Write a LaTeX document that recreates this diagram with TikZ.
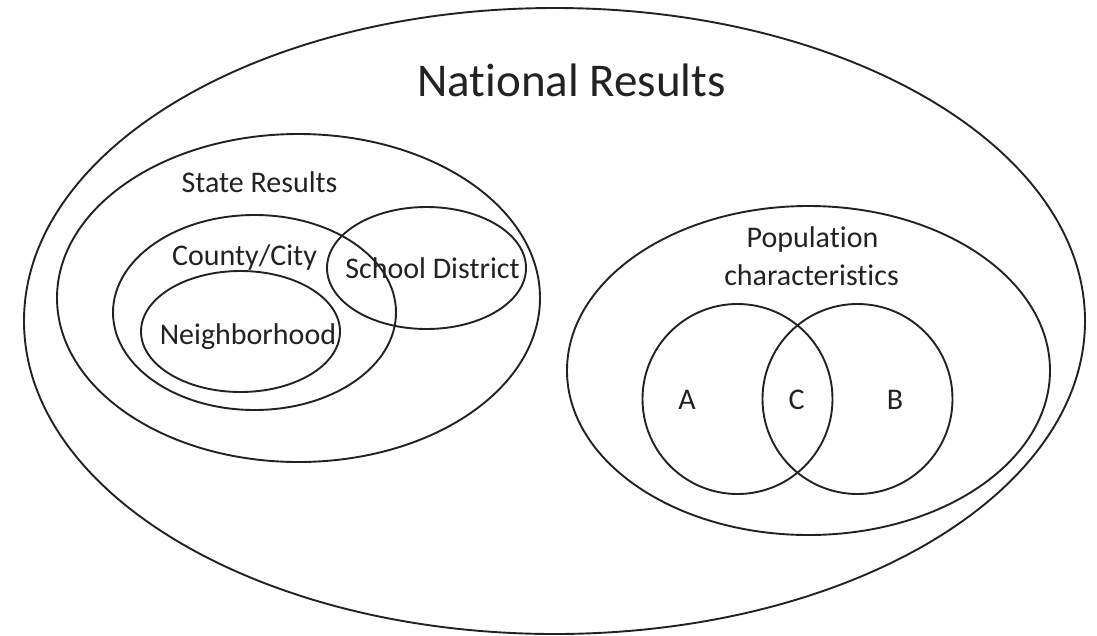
\documentclass[tikz,border=0pt]{standalone}
\usepackage{fontspec}
\setmainfont{Carlito}[Ligatures=NoCommon]
\definecolor{ink}{HTML}{222222}
\begin{document}
\begin{tikzpicture}[x=1pt,y=-1pt,
  shapeline/.style={draw=ink,line width=1.9pt},
  lbl/.style={anchor=base,inner sep=0pt,text=ink,font=\fontsize{30}{36}\selectfont},
  biglbl/.style={anchor=base,inner sep=0pt,text=ink,font=\fontsize{47}{56}\selectfont}]
\useasboundingbox (0,0) rectangle (1097,635);
% shapes
\draw[shapeline] (554.5,321) ellipse [x radius=530.5pt, y radius=313pt];
\draw[shapeline] (298.5,298) ellipse [x radius=241.5pt, y radius=164pt];
\draw[shapeline] (254.5,312.5) ellipse [x radius=141.5pt, y radius=97.5pt];
\draw[shapeline] (240.5,331.5) ellipse [x radius=99.5pt, y radius=60.5pt];
\draw[shapeline] (426.5,268) ellipse [x radius=99.5pt, y radius=61pt];
\draw[shapeline] (808.5,370.5) ellipse [x radius=241.5pt, y radius=164.5pt];
\draw[shapeline] (737.5,399) circle [radius=95pt];
\draw[shapeline] (857.5,399) circle [radius=95pt];
% labels
\node[biglbl] (national) at (571.5,96) {National Results};
\node[lbl] (state) at (259.5,192) {State Results};
\node[lbl] (county) at (244.5,265) {County/City};
\node[lbl] (school) at (432.5,278) {School District};
\node[lbl] (neigh) at (248,344) {Neighborhood};
\node[lbl] (pop1) at (812.5,247) {Population};
\node[lbl] (pop2) at (811.5,285) {characteristics};
\node[lbl] (a) at (687,409) {A};
\node[lbl] (c) at (796.5,409) {C};
\node[lbl] (b) at (895,409) {B};
\end{tikzpicture}
\end{document}
